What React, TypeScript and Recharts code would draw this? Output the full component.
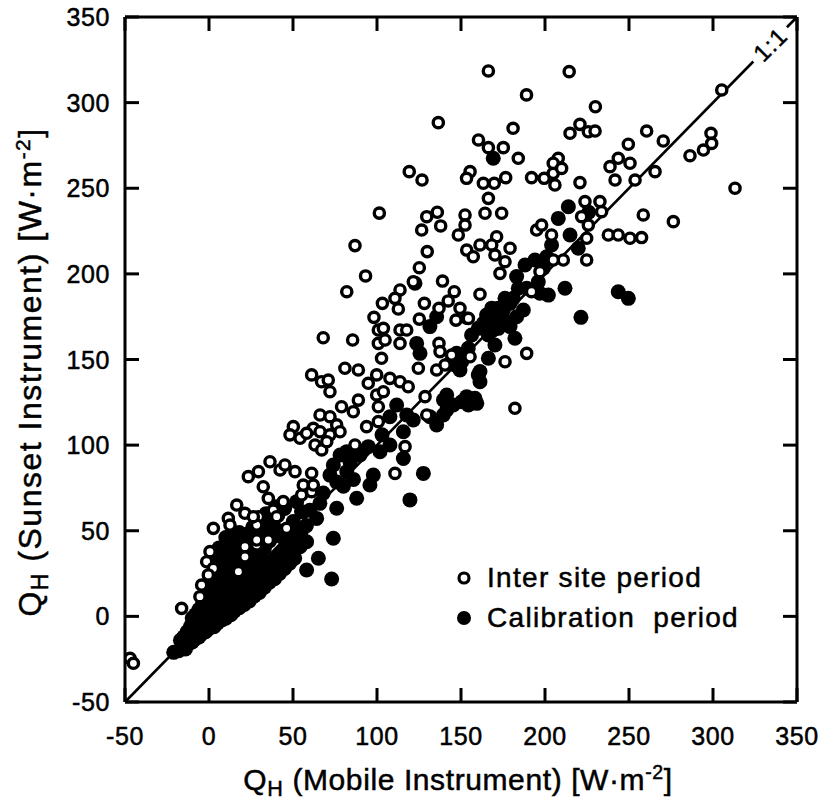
import React from 'react';
import {
  ScatterChart,
  Scatter,
  XAxis,
  YAxis,
  ReferenceLine,
  ReferenceDot,
  Legend,
} from 'recharts';

const FONT = '"Liberation Sans", Arial, Helvetica, sans-serif';

const axisTicks = [-50, 0, 50, 100, 150, 200, 250, 300, 350];
const axisDomain: [number, number] = [-50, 350];

const seriesNames = ['Inter site period', 'Calibration  period'];
const xTitle = { main: 'Q', sub: 'H', rest: ' (Mobile Instrument) [W·m', sup: '-2', end: ']' };
const yTitle = { main: 'Q', sub: 'H', rest: ' (Sunset Instrument) [W·m', sup: '-2', end: ']' };
const oneToOneLabel = '1:1';

// Inter site period (open circles): [mobile, sunset]
const interSite: [number, number][] = [
  [136.5, 288.3], [119.2, 259.7], [126.8, 254.8], [101.4, 235.5], [86.9, 216.5], [129.6, 233.4],
  [135.9, 236], [126.6, 225.6], [137.9, 228], [148.4, 222.7], [129.9, 213], [125.2, 203.6],
  [93.2, 198.8], [121.6, 195.4], [139, 195.8], [82, 189.6], [113.7, 190.6], [146, 189.6],
  [110.7, 185.7], [103.2, 182.8], [128.2, 182.8], [142.4, 184.2], [112.7, 179.5], [136.9, 179.9],
  [149.4, 179.9], [98.2, 174.6], [125.2, 173.6], [147, 173], [100.8, 167.2], [103.8, 168.2],
  [113.7, 167.2], [117.7, 167.2], [68, 162.7], [85.5, 161.4], [100.8, 159.4], [104.8, 161.4],
  [113.7, 159.4], [136.9, 159.4], [102.7, 150.7],
  [166.3, 318.5], [214.4, 318.1], [189, 304.5], [230, 297.6], [305.2, 307.4], [181, 285],
  [220.8, 287.3], [214.9, 282.1], [225.8, 283], [229.8, 283.4], [260.5, 283.4], [249.6, 275.7],
  [270.4, 277.6], [298.8, 282.1], [299.2, 276.2], [294.3, 272.3], [286.3, 269], [313.1, 250],
  [160.4, 278.2], [166.3, 273.7], [175.2, 273.7], [184.1, 267.5], [238.7, 262.6], [243.6, 267.5],
  [250.6, 264.6], [241.7, 254.8], [253.6, 254.8], [265.5, 259.7], [155.4, 259.7], [153.3, 255.8],
  [163.3, 252.9], [169.8, 252.9], [176.6, 256.2], [192, 256.2], [199.5, 255.8], [204.9, 258.7],
  [207.9, 267.5], [204.9, 264.6], [209.9, 261.6], [205.9, 251.9], [220.8, 253.3], [166.3, 244.1],
  [164.3, 235.4], [174.2, 235.4], [152.4, 234.4], [152.4, 228.5], [171.2, 221.7], [168.3, 216.9],
  [161.3, 216.9], [153.4, 213.9], [157.3, 210], [170.2, 211], [179.2, 215], [176.2, 207.1],
  [195, 225.6], [198, 228.5], [203.9, 222.7], [223.8, 242.2], [232.7, 242.2], [221.8, 233.4],
  [225.8, 228.5], [224.8, 220.8], [233.7, 236.3], [258.5, 234.4], [276.4, 230.5], [237.7, 222.7],
  [243.6, 222.7], [250.6, 220.8], [257.5, 221.2], [210.9, 208.1], [224.8, 208.1], [204.9, 208.1],
  [161.3, 188.1], [153.4, 174.1], [189.1, 153.6],
  [61.1, 141], [67, 137], [71, 138], [72, 131.2], [80.9, 144.9], [88.9, 143.9], [99.8, 141],
  [94.8, 136.1], [99.8, 129.3], [103.8, 131.2], [100.8, 122.4], [107.7, 139], [113.7, 137],
  [118.6, 134.1], [124.6, 144.9], [135.5, 143.9], [140.5, 146.8], [128.6, 128.3], [129.6, 117.6],
  [78.9, 122.4], [85.9, 119.5], [88.9, 126.3], [93.8, 110.8], [100.8, 113.7], [66.1, 117.6],
  [72, 116.6], [50.2, 110.8], [48.2, 106], [54.2, 104], [62.1, 109.8], [58.1, 106.9], [66.1, 107.8],
  [76, 111.8], [72, 106], [78, 107.8], [63.1, 100.1], [67.1, 97.2], [70.1, 102], [86.9, 100.1],
  [23.4, 81.6], [29.4, 84.5], [36.3, 90.3], [42.3, 85.5], [45.2, 88.4], [51.2, 84.5], [61.1, 83.6],
  [32.3, 75.7], [35.3, 68.9], [44.2, 67], [38.3, 62.1], [55.1, 70.9], [61.1, 72.8], [16.5, 65],
  [21.4, 60.2], [29.4, 58.2], [28.4, 53.3], [11.5, 57.2], [12.5, 53.3], [2.6, 51.4], [21.4, 40.7],
  [21.4, 34.8], [28.4, 41.7], [17.5, 26.1], [0.6, 37.8], [-1.4, 31.9], [2.6, 28], [-0.4, 24.2],
  [-4.4, 18.3], [-5.4, 11.5], [-16.3, 4.7], [-47, -24.5], [-45, -27.4], [116.7, 99.1], [110.7, 83.5],
  [176.2, 148.7], [182.1, 121.5], [154.4, 174], [137.5, 154.6], [144.4, 152.6], [155.4, 151.6],
  [173.2, 200.3], [197, 201.3], [192, 189.6], [40.3, 58.2], [26.4, 58.2], [56.1, 76.7], [62.1, 76.7],
  [28.4, 44.6], [46.2, 51.4], [35.3, 44.6],
];

// Calibration period (filled circles): [mobile, sunset]
const calibration: [number, number][] = [
  [213.9, 239.2], [207.9, 232.4], [214.9, 222.7], [219.8, 215], [203.9, 216.9], [194, 208.1],
  [188.1, 205.2], [199, 203.3], [196, 195.4], [189.1, 191.6], [211.9, 191.6], [243.6, 189.6],
  [249.6, 185.7], [221.4, 174.6], [202, 187.6], [169.2, 267.5], [184.1, 191.6], [181.1, 185.7],
  [176.2, 185.7], [172.2, 180], [168.3, 180], [165.2, 176], [160.3, 168.2], [156.3, 164.3],
  [166.3, 164.3], [172.2, 168.2], [178.2, 172], [182.1, 162.4], [170.2, 158.5], [154.3, 156.5],
  [148.4, 152.6], [226, 236],
  [111.7, 123.4], [117.7, 117.6], [115.7, 107.8], [141.5, 129.3], [145.4, 123.4], [139.5, 117.6],
  [135.5, 111.8], [127.6, 83.5], [119.6, 68], [115.7, 92.2], [107.7, 100.1], [101.8, 96.2],
  [94.8, 99.1], [89.9, 94.2], [97.8, 82.5], [95.8, 76.7], [87.9, 69], [82, 96.2], [78, 94.2],
  [74, 88.4], [72, 82.5], [76, 78.5], [82, 84.5], [76, 63.1], [74, 45.6], [65.1, 33.9], [58.1, 27.1],
  [73, 21.8], [58.1, 43.6], [54.2, 40.7], [48.2, 31.9], [44.2, 37.8], [50.2, 55.4], [55.1, 61.1],
  [64.1, 57.2], [58.1, 74.8], [52.2, 67], [66, 66],
  [160.3, 141], [158.3, 127.3], [154.4, 123.4], [150.4, 125.3], [146.4, 146.8], [150.4, 148.7],
  [166.3, 150.7],
  [201, 210], [183.1, 198.4], [197, 188.7], [179.2, 182.8], [175.2, 178.9], [171.2, 175],
  [167.3, 173.1], [163.3, 171.1], [183.1, 175], [187.1, 178.9], [179.2, 169.2], [169.2, 167.2],
  [161.3, 143], [161.3, 137], [159.4, 124.4], [153.4, 128.3], [139.6, 126.4], [141.5, 120.5],
  [147.4, 153.6], [143.5, 147.8], [149.4, 143.9], [135.5, 175], [131.5, 169.2], [123.6, 159.4],
  [125.6, 153.6], [107.7, 116.6], [121.6, 114.7], [131.5, 116.6], [122.6, 194.5], [103, 106],
  [60, 62], [68, 72], [84, 90], [86, 80], [80, 76],
  // dense cluster near the origin
  [-21, -21], [-18, -20], [-16, -18], [-14, -19], [-12, -16], [-10, -15], [-8, -13], [-6, -12],
  [-4, -10], [-2, -9], [0, -7], [3, -6], [5, -4], [8, -2], [10, -1], [13, 1], [15, 3], [18, 5],
  [21, 7], [24, 9], [27, 12], [30, 14], [33, 17], [36, 20], [39, 22], [42, 25], [45, 28], [48, 31],
  [51, 34], [-15, -12], [-13, -9], [-11, -6], [-9, -3], [-8, 1], [-6, 4], [-4, 7], [-3, 11],
  [-1, 14], [1, 18], [2, 22], [4, 26], [5, 31], [7, 35], [9, 39], [12, 43], [15, 46], [18, 49],
  [-9, -9], [-5, -6], [-2, -3], [1, -1], [4, 2], [7, 4], [10, 7], [13, 9], [16, 12], [19, 14],
  [22, 17], [25, 20], [28, 23], [31, 26], [34, 29], [37, 31], [40, 34], [43, 37], [-5, 0], [-2, 4],
  [1, 6], [3, 10], [6, 13], [9, 16], [12, 19], [15, 22], [18, 25], [21, 28], [24, 31], [27, 34],
  [30, 37], [33, 40], [36, 44], [39, 47], [42, 50], [0, 12], [3, 16], [6, 20], [9, 24], [12, 27],
  [15, 30], [18, 33], [21, 36], [24, 39], [27, 42], [30, 46], [33, 50], [8, 30], [11, 34], [14, 37],
  [17, 41], [20, 44], [23, 48], [26, 52], [46, 40], [49, 44], [44, 46], [38, 55], [41, 59],
  [45, 63], [48, 50], [52, 46], [55, 50], [58, 53],
  [-17, -14], [-12, -12], [-7, -7], [-10, -1], [-7, -4], [-3, -6], [0, 1], [3, 3], [-3, 2], [2, 8],
  [6, 8], [9, 11], [5, 17], [11, 14], [14, 17], [17, 20], [20, 23], [8, 21], [11, 23], [6, 25],
  [3, 34], [6, 40], [10, 46], [23, 28], [26, 26], [29, 30], [32, 33], [35, 24], [38, 27], [41, 30],
  [44, 32], [47, 36], [50, 40], [36, 50], [32, 56], [34, 60], [40, 64],
];

const interSiteData = interSite.map(([x, y]) => ({ x, y }));
const calibrationData = calibration.map(([x, y]) => ({ x, y }));

const lineSegmentA = [{ x: -50, y: -50 }, { x: 324, y: 324 }];
const lineSegmentB = [{ x: 344, y: 344 }, { x: 350, y: 350 }];
const labelPoint = { x: 334, y: 334 };

// styling sizes (pixels)
const TICK_LEN = 14;
const X_LABEL_GAP = 25;
const Y_LABEL_GAP = 15;
const LINE_W = 3;

const OpenDot = (p: any) =>
  p.cx == null ? <g /> : <circle cx={p.cx} cy={p.cy} r={5.1} fill="#fff" stroke="#000" strokeWidth={3.4} />;
const FilledDot = (p: any) =>
  p.cx == null ? <g /> : <circle cx={p.cx} cy={p.cy} r={7.5} fill="#000" />;
const HiddenDot = () => <g />;

const XTickLabel = (p: any) => (
  <g>
    <path
      d={`M${p.x},${p.y - X_LABEL_GAP}V${p.y - X_LABEL_GAP - TICK_LEN}`}
      stroke="#000"
      strokeWidth={LINE_W}
      fill="none"
    />
    <text
      x={p.x}
      y={p.y}
      dy={18}
      textAnchor="middle"
      fontSize={25}
      letterSpacing={0.6}
      fontFamily={FONT}
      fill="#000"
      stroke="#000"
      strokeWidth={0.5}
    >
      {p.payload.value}
    </text>
  </g>
);
const YTickLabel = (p: any) => (
  <g>
    <path
      d={`M${p.x + Y_LABEL_GAP},${p.y}H${p.x + Y_LABEL_GAP + TICK_LEN}`}
      stroke="#000"
      strokeWidth={LINE_W}
      fill="none"
    />
    <text
      x={p.x}
      y={p.y}
      dy={9}
      textAnchor="end"
      fontSize={25}
      letterSpacing={0.6}
      fontFamily={FONT}
      fill="#000"
      stroke="#000"
      strokeWidth={0.5}
    >
      {p.payload.value}
    </text>
  </g>
);
const TopTick = (p: any) => (
  <path d={`M${p.x},${p.y}V${p.y + TICK_LEN}`} stroke="#000" strokeWidth={LINE_W} fill="none" />
);
const RightTick = (p: any) => (
  <path d={`M${p.x},${p.y}H${p.x - TICK_LEN}`} stroke="#000" strokeWidth={LINE_W} fill="none" />
);

const OneToOne = (p: any) =>
  p.cx == null ? (
    <g />
  ) : (
    <text
      x={p.cx}
      y={p.cy}
      dy="0.36em"
      textAnchor="middle"
      fontSize={24}
      fontFamily={FONT}
      letterSpacing={1}
      fill="#000"
      stroke="#000"
      strokeWidth={0.4}
      transform={`rotate(-45 ${p.cx} ${p.cy})`}
    >
      {oneToOneLabel}
    </text>
  );

const renderLegend = () => (
  <div
    style={{
      fontFamily: FONT,
      fontSize: 28,
      letterSpacing: 1.3,
      color: '#000',
      WebkitTextStroke: '0.5px #000',
    }}
  >
    {seriesNames.map((name, i) => (
      <div key={name} style={{ display: 'flex', alignItems: 'center', height: 40, whiteSpace: 'pre' }}>
        <svg width={18} height={18} style={{ flex: 'none', display: 'block' }}>
          {i === 0 ? (
            <circle cx={9} cy={9} r={5} fill="#fff" stroke="#000" strokeWidth={3.2} />
          ) : (
            <circle cx={9} cy={9} r={7} fill="#000" />
          )}
        </svg>
        <span style={{ marginLeft: 14, lineHeight: '40px' }}>{name}</span>
      </div>
    ))}
  </div>
);

const lineStyle = { stroke: '#000', strokeWidth: LINE_W };

const Title = ({ t }: { t: typeof xTitle }) => (
  <>
    {t.main}
    <span style={{ fontSize: '0.72em', position: 'relative', top: '0.3em' }}>{t.sub}</span>
    {t.rest}
    <span style={{ fontSize: '0.65em', position: 'relative', top: '-0.55em' }}>{t.sup}</span>
    {t.end}
  </>
);

export default function App() {
  return (
    <div
      style={{
        position: 'absolute',
        left: 0,
        top: 0,
        width: 821,
        height: 800,
        background: '#fff',
        fontFamily: FONT,
        overflow: 'hidden',
      }}
    >
      <ScatterChart width={821} height={800} margin={{ top: 17, right: 24, bottom: 0, left: 0 }}>
        <XAxis
          xAxisId={0}
          type="number"
          dataKey="x"
          domain={axisDomain}
          ticks={axisTicks}
          interval={0}
          allowDataOverflow
          height={98}
          tickLine={false}
          tickSize={0}
          tickMargin={X_LABEL_GAP}
          axisLine={lineStyle}
          tick={XTickLabel}
        />
        <YAxis
          yAxisId={0}
          type="number"
          dataKey="y"
          domain={axisDomain}
          ticks={axisTicks}
          interval={0}
          allowDataOverflow
          width={125}
          tickLine={false}
          tickSize={0}
          tickMargin={Y_LABEL_GAP}
          axisLine={lineStyle}
          tick={YTickLabel}
        />
        <XAxis
          xAxisId="tm"
          type="number"
          dataKey="x"
          orientation="top"
          mirror
          domain={axisDomain}
          ticks={axisTicks}
          interval={0}
          allowDataOverflow
          tickLine={false}
          tickSize={0}
          tickMargin={0}
          axisLine={lineStyle}
          tick={TopTick}
        />
        <YAxis
          yAxisId="rm"
          type="number"
          dataKey="y"
          orientation="right"
          mirror
          domain={axisDomain}
          ticks={axisTicks}
          interval={0}
          allowDataOverflow
          tickLine={false}
          tickSize={0}
          tickMargin={0}
          axisLine={lineStyle}
          tick={RightTick}
        />
        <Scatter
          xAxisId="tm"
          yAxisId="rm"
          data={calibrationData}
          shape={HiddenDot}
          legendType="none"
          isAnimationActive={false}
        />
        <ReferenceLine segment={lineSegmentA} stroke="#000" strokeWidth={2.6} />
        <ReferenceLine segment={lineSegmentB} stroke="#000" strokeWidth={2.6} />
        <ReferenceDot x={labelPoint.x} y={labelPoint.y} r={1} shape={OneToOne} />
        <Scatter
          name={seriesNames[1]}
          data={calibrationData}
          shape={FilledDot}
          isAnimationActive={false}
        />
        <Scatter
          name={seriesNames[0]}
          data={interSiteData}
          shape={OpenDot}
          isAnimationActive={false}
        />
        <Legend
          layout="vertical"
          align="center"
          verticalAlign="middle"
          content={renderLegend}
          wrapperStyle={{ left: 455, top: 558, width: 'auto', height: 'auto' }}
        />
      </ScatterChart>
      <div
        style={{
          position: 'absolute',
          left: 0,
          width: 916,
          top: 765,
          height: 29,
          lineHeight: '29px',
          fontSize: 30,
          letterSpacing: 0.6,
          textAlign: 'center',
          whiteSpace: 'pre',
          color: '#000',
          WebkitTextStroke: '0.5px #000',
        }}
      >
        <Title t={xTitle} />
      </div>
      <div
        style={{
          position: 'absolute',
          left: 30 - 350,
          width: 700,
          top: 372 - 15,
          height: 30,
          lineHeight: '30px',
          fontSize: 32,
          letterSpacing: 1.5,
          textAlign: 'center',
          whiteSpace: 'pre',
          color: '#000',
          WebkitTextStroke: '0.5px #000',
          transform: 'rotate(-90deg)',
          transformOrigin: '50% 50%',
        }}
      >
        <Title t={yTitle} />
      </div>
    </div>
  );
}
